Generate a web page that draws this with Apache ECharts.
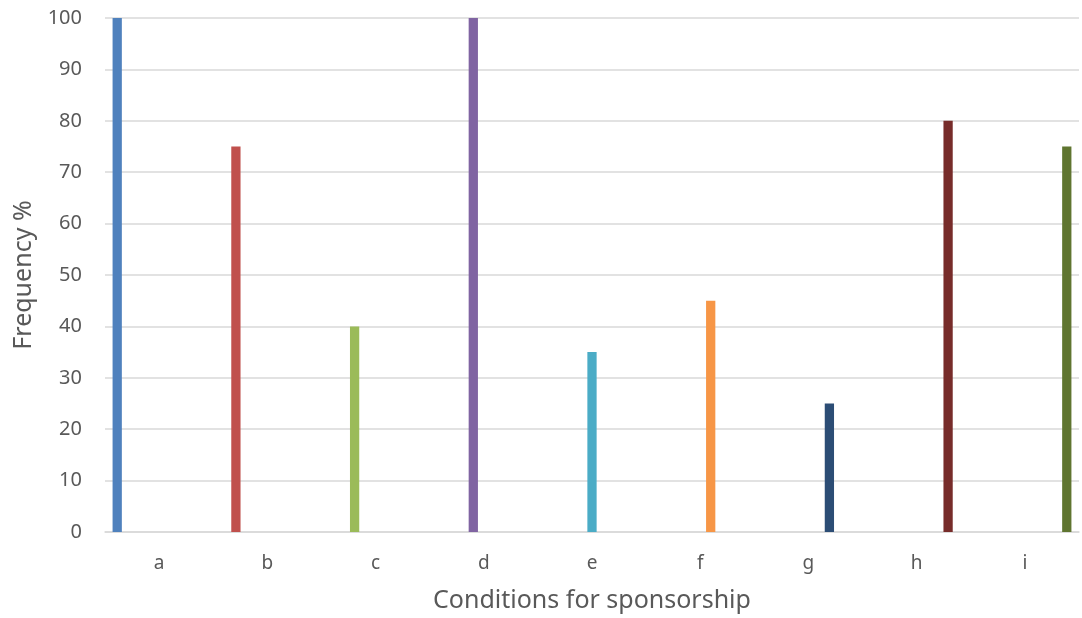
<!DOCTYPE html>
<html>
<head>
<meta charset="utf-8">
<style>
  html, body { margin: 0; padding: 0; background: #ffffff; }
  #chart { width: 1082px; height: 618px; }
</style>
<script src="https://cdn.jsdelivr.net/npm/echarts@6/dist/echarts.min.js"></script>
</head>
<body>
<div id="chart"></div>
<script>
// Conditions for sponsorship and the share of respondents (%) for each
const categories = ['a', 'b', 'c', 'd', 'e', 'f', 'g', 'h', 'i'];
const frequency = [100, 75, 40, 100, 35, 45, 25, 80, 75];
const barColors = ['#4F81BD', '#C0504D', '#9BBB59', '#8064A2', '#4BACC6',
                   '#F79646', '#2C4D75', '#772C2A', '#5F7530'];
const yTicks = { min: 0, max: 100, interval: 10 };

const FONT = '"Noto Sans", "Open Sans", sans-serif';
const TEXT = '#595959';

// One series per condition, each holding a value only in its own category
const series = categories.map((name, k) => ({
  name: name,
  type: 'bar',
  data: categories.map((_, j) => (j === k ? frequency[k] : null)),
  itemStyle: { color: barColors[k] },
  barGap: '13%',
  barCategoryGap: '14%'
}));

const chart = echarts.init(document.getElementById('chart'));
chart.setOption({
  animation: false,
  grid: { left: 105, right: 3, top: 18, bottom: 84 },
  xAxis: {
    type: 'category',
    data: categories,
    name: 'Conditions for sponsorship',
    nameLocation: 'middle',
    nameGap: 56,
    nameTextStyle: { fontFamily: FONT, fontSize: 25, color: TEXT },
    axisLine: { show: true, lineStyle: { color: '#d9d9d9', width: 1.5 } },
    axisTick: { show: false },
    axisLabel: { fontFamily: FONT, fontSize: 19, color: TEXT, margin: 22 }
  },
  yAxis: {
    type: 'value',
    min: yTicks.min,
    max: yTicks.max,
    interval: yTicks.interval,
    name: 'Frequency %',
    nameLocation: 'middle',
    nameGap: 69,
    nameTextStyle: { fontFamily: FONT, fontSize: 25, color: TEXT },
    axisLine: { show: false },
    axisTick: { show: false },
    axisLabel: { fontFamily: FONT, fontSize: 20, color: TEXT, margin: 23 },
    splitLine: { lineStyle: { color: '#d9d9d9', width: 1.5 } }
  },
  series: series
});
</script>
</body>
</html>
